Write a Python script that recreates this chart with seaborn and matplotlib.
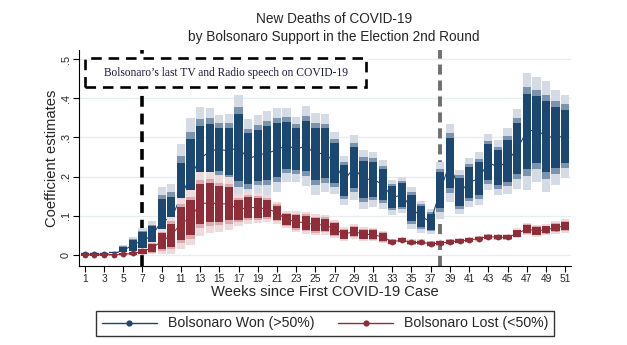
import numpy as np
import pandas as pd
import matplotlib
matplotlib.use("Agg")
import matplotlib.pyplot as plt
import seaborn as sns
from matplotlib.patches import Rectangle
from matplotlib.lines import Line2D

# ---------------- data ----------------
weeks = list(range(1, 52))

won_est = [0.002, 0.002, 0.002, 0.003, 0.012, 0.025, 0.038, 0.048, 0.088, 0.092,
           0.150, 0.200, 0.245, 0.265, 0.270, 0.265, 0.275, 0.245, 0.255, 0.260,
           0.268, 0.280, 0.270, 0.278, 0.258, 0.260, 0.235, 0.190, 0.223, 0.193,
           0.193, 0.180, 0.147, 0.153, 0.120, 0.098, 0.085, 0.165, 0.235, 0.160,
           0.185, 0.195, 0.237, 0.223, 0.240, 0.271, 0.315, 0.320, 0.302, 0.300,
           0.303]
won_se = [0.0018, 0.0018, 0.0018, 0.0024, 0.0055, 0.0085, 0.0122, 0.0152, 0.0334, 0.0347,
          0.0517, 0.0578, 0.0517, 0.0426, 0.0334, 0.0365, 0.0517, 0.0395, 0.0395, 0.0413,
          0.0413, 0.0365, 0.0322, 0.0395, 0.0407, 0.0383, 0.0310, 0.0243, 0.0322, 0.0292,
          0.0274, 0.0243, 0.0170, 0.0182, 0.0207, 0.0158, 0.0122, 0.0280, 0.0389, 0.0219,
          0.0243, 0.0261, 0.0280, 0.0274, 0.0328, 0.0395, 0.0578, 0.0517, 0.0547, 0.0474,
          0.0413]

lost_est = [0.000, 0.000, 0.000, 0.001, 0.002, 0.004, 0.009, 0.018, 0.035, 0.050,
            0.080, 0.095, 0.130, 0.134, 0.130, 0.131, 0.115, 0.122, 0.120, 0.118,
            0.108, 0.090, 0.085, 0.082, 0.077, 0.077, 0.066, 0.053, 0.060, 0.053,
            0.052, 0.046, 0.034, 0.038, 0.032, 0.032, 0.029, 0.030, 0.034, 0.036,
            0.038, 0.042, 0.047, 0.045, 0.045, 0.055, 0.066, 0.062, 0.064, 0.070,
            0.074]
lost_se = [0.0012, 0.0012, 0.0012, 0.0012, 0.0018, 0.0024, 0.0036, 0.0061, 0.0122, 0.0182,
           0.0255, 0.0274, 0.0316, 0.0300, 0.0274, 0.0261, 0.0160, 0.0164, 0.0152, 0.0134,
           0.0109, 0.0085, 0.0103, 0.0109, 0.0103, 0.0097, 0.0091, 0.0067, 0.0073, 0.0067,
           0.0067, 0.0061, 0.0030, 0.0030, 0.0030, 0.0030, 0.0030, 0.0030, 0.0030, 0.0030,
           0.0030, 0.0030, 0.0030, 0.0030, 0.0030, 0.0049, 0.0061, 0.0061, 0.0055, 0.0061,
           0.0067]

z_levels = [2.576, 1.960, 1.645]          # 99%, 95%, 90% intervals
xtick_weeks = list(range(1, 52, 2))
yticks = [0, 0.1, 0.2, 0.3, 0.4, 0.5]
ytick_labels = ["0", ".1", ".2", ".3", ".4", ".5"]
speech_week = 7
election_week = 38
series_names = ["Bolsonaro Won (>50%)", "Bolsonaro Lost (<50%)"]
title_lines = ["New Deaths of COVID-19", "by Bolsonaro Support in the Election 2nd Round"]
annotation = "Bolsonaro\u2019s last TV and Radio speech on COVID-19"

# ---------------- style ----------------
sns.set_theme(style="white")
plt.rcParams["font.family"] = ["Liberation Sans", "DejaVu Sans"]

blue_cols = ["#d4dbe5", "#7b93ae", "#1c4770"]
red_cols = ["#efdadb", "#dba8ac", "#8f2e38"]
blue_line = "#1c4770"
red_line = "#8f2e38"

W, H = 627, 345
fig = plt.figure(figsize=(W / 100, H / 100), dpi=100)
ax_left, ax_right, ax_top, ax_bot = 79, 571, 50, 266
ax = fig.add_axes([ax_left / W, 1 - ax_bot / H, (ax_right - ax_left) / W, (ax_bot - ax_top) / H])

df = pd.DataFrame({"week": weeks, "won": won_est, "won_se": won_se,
                   "lost": lost_est, "lost_se": lost_se})

zo = 2
for col, secol, cols, lc in [("won", "won_se", blue_cols, blue_line),
                              ("lost", "lost_se", red_cols, red_line)]:
    for z, c in zip(z_levels, cols):
        lo = df[col] - z * df[secol]
        hi = df[col] + z * df[secol]
        ax.bar(df["week"], hi - lo, bottom=lo, width=0.86, color=c,
               linewidth=0, zorder=zo)
    sns.lineplot(data=df, x="week", y=col, ax=ax, color=lc, marker="o",
                 markersize=4.2, markeredgewidth=0, linewidth=0.8, zorder=zo + 1)
    zo += 2

# reference lines (drawn beneath the plots, as in Stata)
ax.axvline(speech_week, color="black", lw=2.6, ls=(0, (3.0, 1.9)), zorder=1.5)
ax.axvline(election_week, color="#707070", lw=2.8, ls=(0, (2.6, 1.5)), zorder=1.5)

# annotation box
box_x0, box_x1 = 1.0, 30.3
box_y0, box_y1 = 0.428, 0.502
ax.add_patch(Rectangle((box_x0, box_y0), box_x1 - box_x0, box_y1 - box_y0,
                       facecolor="white", edgecolor="black", lw=1.9,
                       ls=(0, (4.0, 2.6)), zorder=10))
ax.text((box_x0 + box_x1) / 2, (box_y0 + box_y1) / 2, annotation,
        ha="center", va="center", fontsize=8.3, family=["Liberation Serif", "DejaVu Serif"],
        color="#1a1a3a", zorder=11)

# axes
ax.set_xlim(0.4, 51.6)
ax.set_ylim((255 - ax_bot) / 392, (255 - ax_top) / 392)
ax.set_xticks(xtick_weeks)
ax.set_xticklabels([str(w) for w in xtick_weeks], fontsize=7.4)
ax.set_yticks(yticks)
ax.set_yticklabels(ytick_labels, rotation=90, va="center", fontsize=7.8)
ax.tick_params(axis="both", direction="out", length=4, width=0.8, color="black",
               bottom=True, left=True, pad=2)
ax.yaxis.grid(True, color="#e6eef0", lw=0.9, zorder=0)
ax.xaxis.grid(False)
ax.set_axisbelow(True)
for s in ["top", "right"]:
    ax.spines[s].set_visible(False)
for s in ["left", "bottom"]:
    ax.spines[s].set_color("black")
    ax.spines[s].set_linewidth(0.8)

ax.set_xlabel("Weeks since First COVID-19 Case", fontsize=10.6, labelpad=0.5)
ax.set_ylabel("Coefficient estimates", fontsize=10.6, labelpad=1)

# title
fig.text(334 / W, 1 - 19 / H, title_lines[0], ha="center", va="center", fontsize=9.8)
fig.text(334 / W, 1 - 37 / H, title_lines[1], ha="center", va="center", fontsize=9.8)

# legend
handles = [Line2D([0], [0], color=blue_line, lw=1.0, marker="o", markersize=4.5, markeredgewidth=0),
           Line2D([0], [0], color=red_line, lw=1.0, marker="o", markersize=4.5, markeredgewidth=0)]
leg = fig.legend(handles, series_names, loc="center", bbox_to_anchor=(325 / W, 1 - 323.5 / H),
                 ncol=2, frameon=True, fontsize=10.2, handlelength=3.9, handletextpad=0.75,
                 columnspacing=1.7, borderpad=0.42, fancybox=False, edgecolor="black")
leg.get_frame().set_linewidth(1.0)

fig.savefig("out.png", dpi=100, facecolor="white")
